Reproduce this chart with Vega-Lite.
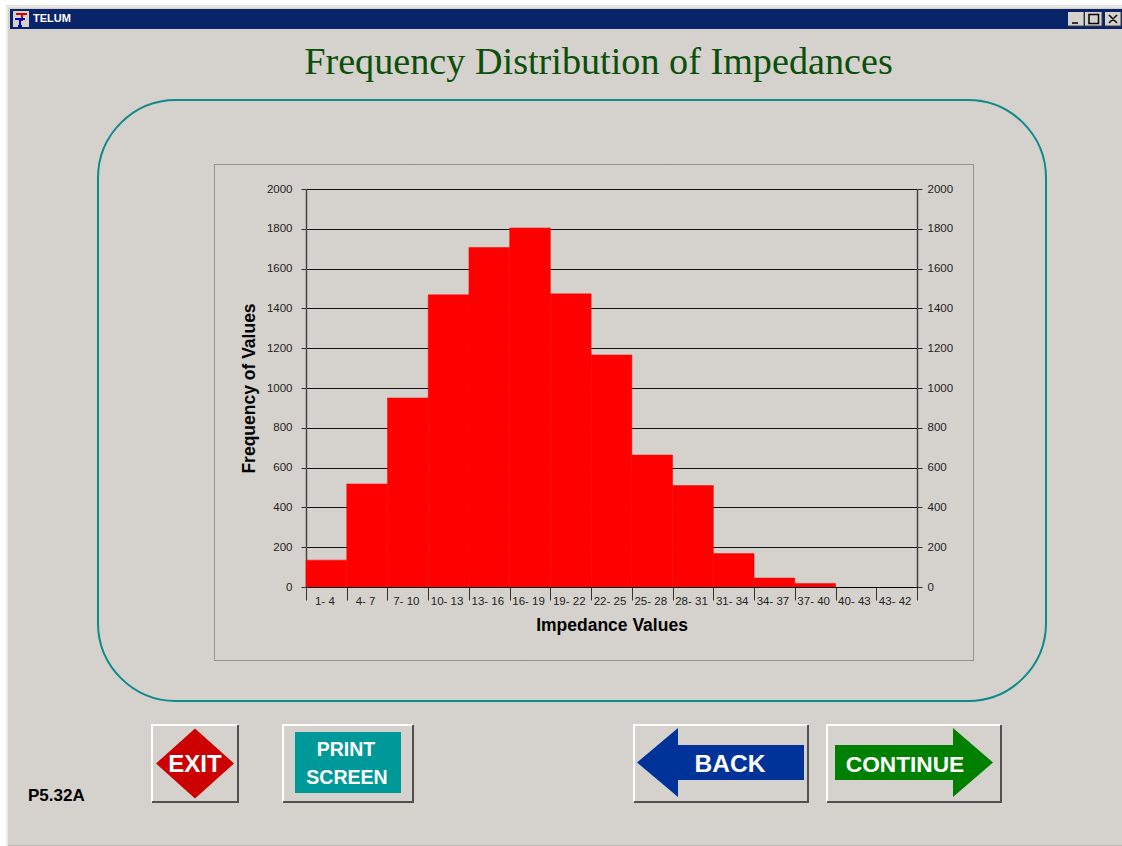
{
"$schema":"https://vega.github.io/schema/vega-lite/v6.json",
"width":611,"height":398,
"autosize":{"type":"none"},
"padding":{"left":306,"top":189,"right":205,"bottom":259},
"background":"#D5D2CD",
"config":{"view":{"stroke":null},"font":"Liberation Sans"},
"data":{"values":[
{"range":"1- 4","count":135},{"range":"4- 7","count":518},{"range":"7- 10","count":950},{"range":"10- 13","count":1468},{"range":"13- 16","count":1706},{"range":"16- 19","count":1804},{"range":"19- 22","count":1473},{"range":"22- 25","count":1166},{"range":"25- 28","count":663},{"range":"28- 31","count":510},{"range":"31- 34","count":168},{"range":"34- 37","count":45},{"range":"37- 40","count":18},{"range":"40- 43","count":0},{"range":"43- 42","count":0}
]},
"resolve":{"scale":{"x":"independent","y":"independent"},"axis":{"x":"independent","y":"independent"}},
"layer":[
{"data":{"values":[{"part":"frame"}]},
 "encoding":{"x":{"field":"part","type":"nominal","axis":null,"scale":{"domain":["frame"],"range":[266,266]}},"y":{"field":"part","type":"nominal","axis":null,"scale":{"domain":["frame"],"range":[211.5,211.5]}}},
 "mark":{"type":"point","size":4,"opacity":1,"filled":false,"stroke":"#0E8A8A","strokeWidth":2,"shape":"M-396,-300.5H396C439,-300.5 474,-265.5 474,-222.5V222.5C474,265.5 439,300.5 396,300.5H-396C-439,300.5 -474,265.5 -474,222.5V-222.5C-474,-265.5 -439,-300.5 -396,-300.5Z"}},
{"data":{"values":[{"part":"panel"}]},
 "encoding":{"x":{"field":"part","type":"nominal","axis":null,"scale":{"domain":["panel"],"range":[288,288]}},"y":{"field":"part","type":"nominal","axis":null,"scale":{"domain":["panel"],"range":[223.5,223.5]}}},
 "mark":{"type":"point","size":4,"opacity":1,"filled":false,"stroke":"#555555","strokeWidth":1,"strokeDash":[1,1],"shape":"M-379.5,-248H379.5V248H-379.5Z"}},
{"mark":{"type":"bar","color":"#FF0000","stroke":"#FF0000","strokeWidth":0.5},
 "transform":[{"filter":"datum.count > 0"}],
 "encoding":{
  "x":{"field":"range","type":"nominal","sort":null,"scale":{"domain":["1- 4","4- 7","7- 10","10- 13","13- 16","16- 19","19- 22","22- 25","25- 28","28- 31","31- 34","34- 37","37- 40","40- 43","43- 42"],"paddingInner":0,"paddingOuter":0},
   "axis":{"title":"Impedance Values","titleFontSize":17.5,"titleFontWeight":"bold","titleColor":"#000000","titlePadding":10,"labelAngle":0,"labelFontSize":11.5,"labelColor":"#222222","labelPadding":-5,"labelOffset":-2,"tickBand":"extent","tickSize":13,"tickColor":"#333333","domainColor":"#000000","zindex":1,"labelOverlap":false}},
  "y":{"field":"count","type":"quantitative","scale":{"domain":[0,2000],"nice":false},
   "axis":{"title":"Frequency of Values","titleFontSize":17.5,"titleFontWeight":"bold","titleColor":"#000000","titlePadding":8,"format":"d","values":[0,200,400,600,800,1000,1200,1400,1600,1800,2000],"labelFontSize":11.5,"labelColor":"#222222","labelPadding":9,"tickSize":5,"tickColor":"#333333","grid":true,"gridColor":"#111111","gridOpacity":1,"gridWidth":1,"domainColor":"#444444","domainWidth":1.5}}
 }},
{"mark":{"type":"bar","opacity":0},
 "encoding":{
  "x":{"field":"range","type":"nominal","sort":null,"axis":null,"scale":{"paddingInner":0,"paddingOuter":0}},
  "y":{"field":"count","type":"quantitative","scale":{"domain":[0,2000],"nice":false},
   "axis":{"orient":"right","title":null,"format":"d","values":[0,200,400,600,800,1000,1200,1400,1600,1800,2000],"labelFontSize":11.5,"labelColor":"#222222","labelPadding":5,"tickSize":5,"tickColor":"#333333","grid":false,"domainColor":"#444444","domainWidth":1.5}}
 }},
{"data":{"values":[{"part":"Frequency Distribution of Impedances"}]},
 "mark":{"type":"text","font":"Liberation Serif","fontSize":38.2,"color":"#0B4F0B","align":"center","baseline":"middle"},
 "encoding":{"text":{"field":"part"},"x":{"field":"part","type":"nominal","axis":null,"scale":{"range":[292.5,292.5]}},"y":{"field":"part","type":"nominal","axis":null,"scale":{"range":[-126,-126]}}}},
{"data":{"values":[{"part":"P5.32A"}]},
 "mark":{"type":"text","fontSize":17,"fontWeight":"bold","color":"#000000","align":"left","baseline":"middle"},
 "encoding":{"text":{"field":"part"},"x":{"field":"part","type":"nominal","axis":null,"scale":{"range":[-278,-278]}},"y":{"field":"part","type":"nominal","axis":null,"scale":{"range":[607,607]}}}},
{"data":{"values":[{"part":"titlebar"}]},
 "encoding":{"x":{"field":"part","type":"nominal","axis":null,"scale":{"range":[260,260]}},"y":{"field":"part","type":"nominal","axis":null,"scale":{"range":[-170,-170]}}},
 "mark":{"type":"point","size":4,"opacity":1,"filled":true,"fill":"#0A246A","shape":"M-556,-10H556V10H-556Z"}},
{"data":{"values":[{"part":"TELUM"}]},
 "mark":{"type":"text","fontSize":11,"fontWeight":"bold","color":"#FFFFFF","align":"left","baseline":"middle"},
 "encoding":{"text":{"field":"part"},"x":{"field":"part","type":"nominal","axis":null,"scale":{"range":[-273,-273]}},"y":{"field":"part","type":"nominal","axis":null,"scale":{"range":[-170,-170]}}}},
{"data":{"values":[{"part":"icon"}]},
 "encoding":{"x":{"field":"part","type":"nominal","axis":null,"scale":{"range":[-285,-285]}},"y":{"field":"part","type":"nominal","axis":null,"scale":{"range":[-170,-170]}}},
 "layer":[
  {"mark":{"type":"point","size":4,"opacity":1,"filled":true,"fill":"#D5D2CD","shape":"M-8,-8H8V8H-8Z"}},
  {"mark":{"type":"point","size":4,"opacity":1,"filled":false,"stroke":"#D00000","strokeWidth":2,"shape":"M-5,-5H6M1,-5V2"}},
  {"mark":{"type":"point","size":4,"opacity":1,"filled":false,"stroke":"#0000CC","strokeWidth":2,"shape":"M-6,0H4M-1,0V7M-3,7H1"}}
 ]},
{"data":{"values":[{"part":"window buttons"}]},
 "encoding":{"x":{"field":"part","type":"nominal","axis":null,"scale":{"range":[788,788]}},"y":{"field":"part","type":"nominal","axis":null,"scale":{"range":[-170,-170]}}},
 "layer":[
  {"mark":{"type":"point","size":4,"opacity":1,"filled":true,"fill":"#D5D2CD","shape":"M-26,-7H-10V7H-26ZM-9,-7H8V7H-9ZM11,-7H27V7H11Z"}},
  {"mark":{"type":"point","size":4,"opacity":1,"filled":false,"stroke":"#404040","strokeWidth":1,"shape":"M-26,7H-10V-7M-9,7H8V-7M11,7H27V-7"}},
  {"mark":{"type":"point","size":4,"opacity":1,"filled":false,"stroke":"#000000","strokeWidth":1.5,"shape":"M-22,4H-16M-5,-4.5H4.5V4.5H-5ZM15,-4L23,4M23,-4L15,4"}}
 ]},
{"data":{"values":[{"part":"screen edge"}]},
 "encoding":{"x":{"field":"part","type":"nominal","axis":null,"scale":{"range":[-306,-306]}},"y":{"field":"part","type":"nominal","axis":null,"scale":{"range":[-189,-189]}}},
 "layer":[
  {"mark":{"type":"point","size":4,"opacity":1,"filled":true,"fill":"#FFFFFF","shape":"M0,0H1122V5H6V846H0Z"}},
  {"mark":{"type":"point","size":4,"opacity":1,"filled":false,"stroke":"#ECEBE7","strokeWidth":2,"shape":"M7,846V6.5H1122"}},
  {"mark":{"type":"point","size":4,"opacity":1,"filled":false,"stroke":"#B8B5AE","strokeWidth":1,"shape":"M8,845.5H1122"}}
 ]},
{"data":{"values":[{"part":"EXIT"}]},
 "encoding":{"x":{"field":"part","type":"nominal","axis":null,"scale":{"range":[-111,-111]}},"y":{"field":"part","type":"nominal","axis":null,"scale":{"range":[574.5,574.5]}}},
 "layer":[
  {"mark":{"type":"point","size":4,"opacity":1,"filled":false,"stroke":"#FFFFFF","strokeWidth":2,"shape":"M-43,38.5V-38.5H43"}},
  {"mark":{"type":"point","size":4,"opacity":1,"filled":false,"stroke":"#505050","strokeWidth":2,"shape":"M43,-38.5V38.5H-43"}},
  {"mark":{"type":"point","size":4,"opacity":1,"filled":true,"fill":"#CC0000","shape":"M0,-35L39,0L0,35L-39,0Z"}},
  {"mark":{"type":"text","fontSize":24,"fontWeight":"bold","color":"#FFFFFF","align":"center","baseline":"middle","dy":1},"encoding":{"text":{"field":"part"}}}
 ]},
{"data":{"values":[{"part":"PRINT SCREEN","first":"PRINT","second":"SCREEN"}]},
 "encoding":{"x":{"field":"part","type":"nominal","axis":null,"scale":{"range":[42,42]}},"y":{"field":"part","type":"nominal","axis":null,"scale":{"range":[574.5,574.5]}}},
 "layer":[
  {"mark":{"type":"point","size":4,"opacity":1,"filled":false,"stroke":"#FFFFFF","strokeWidth":2,"shape":"M-65,38.5V-38.5H65"}},
  {"mark":{"type":"point","size":4,"opacity":1,"filled":false,"stroke":"#505050","strokeWidth":2,"shape":"M65,-38.5V38.5H-65"}},
  {"mark":{"type":"point","size":4,"opacity":1,"filled":true,"fill":"#009999","shape":"M-53,-31.5H53V29.5H-53Z"}},
  {"mark":{"type":"text","fontSize":19.5,"fontWeight":"bold","color":"#FFFFFF","align":"center","baseline":"middle","dy":-14,"dx":-2},"encoding":{"text":{"field":"first"}}},
  {"mark":{"type":"text","fontSize":19.5,"fontWeight":"bold","color":"#FFFFFF","align":"center","baseline":"middle","dy":14,"dx":-1},"encoding":{"text":{"field":"second"}}}
 ]},
{"data":{"values":[{"part":"BACK"}]},
 "encoding":{"x":{"field":"part","type":"nominal","axis":null,"scale":{"range":[415,415]}},"y":{"field":"part","type":"nominal","axis":null,"scale":{"range":[574.5,574.5]}}},
 "layer":[
  {"mark":{"type":"point","size":4,"opacity":1,"filled":false,"stroke":"#FFFFFF","strokeWidth":2,"shape":"M-87,38.5V-38.5H87"}},
  {"mark":{"type":"point","size":4,"opacity":1,"filled":false,"stroke":"#505050","strokeWidth":2,"shape":"M87,-38.5V38.5H-87"}},
  {"mark":{"type":"point","size":4,"opacity":1,"filled":true,"fill":"#003399","shape":"M-84,-1L-43,-35.5V-18.5H83V16.5H-43V33.5Z"}},
  {"mark":{"type":"text","fontSize":24.5,"fontWeight":"bold","color":"#FFFFFF","align":"center","baseline":"middle","dx":9,"dy":1},"encoding":{"text":{"field":"part"}}}
 ]},
{"data":{"values":[{"part":"CONTINUE"}]},
 "encoding":{"x":{"field":"part","type":"nominal","axis":null,"scale":{"range":[608,608]}},"y":{"field":"part","type":"nominal","axis":null,"scale":{"range":[574.5,574.5]}}},
 "layer":[
  {"mark":{"type":"point","size":4,"opacity":1,"filled":false,"stroke":"#FFFFFF","strokeWidth":2,"shape":"M-87,38.5V-38.5H87"}},
  {"mark":{"type":"point","size":4,"opacity":1,"filled":false,"stroke":"#505050","strokeWidth":2,"shape":"M87,-38.5V38.5H-87"}},
  {"mark":{"type":"point","size":4,"opacity":1,"filled":true,"fill":"#008000","shape":"M79,-1L39,-35.5V-18.5H-79V16.5H39V33.5Z"}},
  {"mark":{"type":"text","fontSize":22.7,"fontWeight":"bold","color":"#FFFFFF","align":"center","baseline":"middle","dx":-9,"dy":1},"encoding":{"text":{"field":"part"}}}
 ]}
]
}
